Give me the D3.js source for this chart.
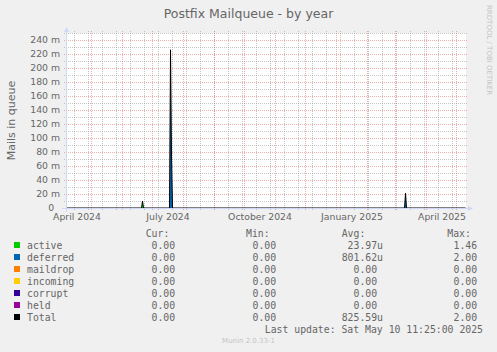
<!DOCTYPE html>
<html>
<head>
<meta charset="utf-8">
<script src="https://cdn.jsdelivr.net/npm/d3@7"></script>
<style>
    body { margin: 0; background: #f0f0f0; }
    svg { display: block; }
    text { font-family: "DejaVu Sans", sans-serif; fill: #666666; }
    .mono { font-family: "DejaVu Sans Mono", monospace; }
</style>
</head>
<body>
<svg id="chart"></svg>
<script>
// samples (daily averages, in mails)
var sampleDates = ["2024-04-06", "2024-06-20", "2024-06-21", "2024-06-22", "2024-07-18", "2024-07-19",
                   "2024-07-20", "2024-07-21", "2025-03-10", "2025-03-11", "2025-03-12", "2025-05-10"]
var active   = [0, 0, 0.010, 0, 0, 0,     0,     0, 0, 0,     0, 0]
var deferred = [0, 0, 0,     0, 0, 0.226, 0.074, 0, 0, 0.021, 0, 0]
var maildrop = [0, 0, 0,     0, 0, 0,     0,     0, 0, 0,     0, 0]
var incoming = [0, 0, 0,     0, 0, 0,     0,     0, 0, 0,     0, 0]
var corrupt  = [0, 0, 0,     0, 0, 0,     0,     0, 0, 0,     0, 0]
var held     = [0, 0, 0,     0, 0, 0,     0,     0, 0, 0,     0, 0]
var total    = [0, 0, 0.010, 0, 0, 0.226, 0.074, 0, 0, 0.021, 0, 0]

var seriesNames  = ["active", "deferred", "maildrop", "incoming", "corrupt", "held", "Total"]
var seriesColors = ["#00cc00", "#0066b3", "#ff8000", "#ffcc00", "#330099", "#990099", "#000000"]
var curValues = [0, 0, 0, 0, 0, 0, 0]
var minValues = [0, 0, 0, 0, 0, 0, 0]
var avgValues = [23.97e-6, 801.62e-6, 0, 0, 0, 0, 825.59e-6]
var maxValues = [1.46, 2.00, 0, 0, 0, 0, 2.00]

var monthLabels = ["2024-04-01", "2024-07-01", "2024-10-01", "2025-01-01", "2025-04-01"]
var lastUpdate = "Last update: Sat May 10 11:25:00 2025"

var parseDay = d3.utcParse("%Y-%m-%d")
var endTime = new Date(Date.UTC(2025, 4, 10, 11, 25))
var startTime = d3.utcDay.offset(endTime, -400)

var dimensions = {
    width: 497,
    height: 352,
    plot: { left: 66, right: 466, top: 33, bottom: 208 }
}

var svg = d3.select("#chart")
    .attr("width", dimensions.width)
    .attr("height", dimensions.height)

svg.append("rect")
    .attr("width", dimensions.width)
    .attr("height", dimensions.height)
    .attr("fill", "#f0f0f0")

var xScale = d3.scaleUtc()
    .domain([startTime, endTime])
    .range([dimensions.plot.left, dimensions.plot.right])
var yScale = d3.scaleLinear()
    .domain([0, 0.25])
    .range([dimensions.plot.bottom, dimensions.plot.top])

// canvas
svg.append("rect")
    .attr("x", dimensions.plot.left)
    .attr("y", dimensions.plot.top)
    .attr("width", dimensions.plot.right - dimensions.plot.left)
    .attr("height", dimensions.plot.bottom - dimensions.plot.top)
    .attr("fill", "#ffffff")

var gridColor = "rgba(143,143,143,0.5)"
var majorColor = "rgba(222,79,79,0.45)"

// grid
var grid = svg.append("g").attr("shape-rendering", "crispEdges")
var yMajor = yScale.ticks(12)
var yMinor = yScale.ticks(25).filter(d => yMajor.indexOf(d) < 0)
var xMinor = d3.utcDay.range(parseDay("2024-04-14"), endTime, 14)
var xMajor = d3.utcMonth.range(startTime, endTime)

grid.selectAll(".hminor").data(yMinor).enter().append("line")
    .attr("x1", dimensions.plot.left - 2).attr("x2", dimensions.plot.right + 2)
    .attr("y1", d => Math.round(yScale(d)) + 0.5).attr("y2", d => Math.round(yScale(d)) + 0.5)
    .attr("stroke", gridColor).attr("stroke-dasharray", "1,1")
grid.selectAll(".vminor").data(xMinor).enter().append("line")
    .attr("x1", d => Math.floor(xScale(d)) + 0.5).attr("x2", d => Math.floor(xScale(d)) + 0.5)
    .attr("y1", dimensions.plot.top - 2).attr("y2", dimensions.plot.bottom + 2)
    .attr("stroke", gridColor).attr("stroke-dasharray", "1,1")
grid.selectAll(".hmajor").data(yMajor).enter().append("line")
    .attr("x1", dimensions.plot.left - 2).attr("x2", dimensions.plot.right + 2)
    .attr("y1", d => Math.round(yScale(d)) + 0.5).attr("y2", d => Math.round(yScale(d)) + 0.5)
    .attr("stroke", majorColor).attr("stroke-dasharray", "1,1")
grid.selectAll(".vmajor").data(xMajor).enter().append("line")
    .attr("x1", d => Math.floor(xScale(d)) + 0.5).attr("x2", d => Math.floor(xScale(d)) + 0.5)
    .attr("y1", dimensions.plot.top - 2).attr("y2", dimensions.plot.bottom + 2)
    .attr("stroke", majorColor).attr("stroke-dasharray", "1,1")

// stacked areas
var rows = sampleDates.map((d, i) => ({
    date: parseDay(d),
    active: active[i], deferred: deferred[i], maildrop: maildrop[i],
    incoming: incoming[i], corrupt: corrupt[i], held: held[i]
}))
var stackKeys = seriesNames.slice(0, 6)
var layers = d3.stack().keys(stackKeys)(rows)

var areaGen = d3.area()
    .x(d => xScale(d.data.date))
    .y0(d => yScale(d[0]))
    .y1(d => yScale(d[1]))

svg.append("g")
    .selectAll("path")
    .data(layers)
    .enter()
    .append("path")
    .attr("d", areaGen)
    .attr("fill", (d, i) => seriesColors[i])

var totalLine = d3.line()
    .x((d, i) => xScale(parseDay(sampleDates[i])))
    .y(d => yScale(d))

svg.append("path")
    .datum(total)
    .attr("d", totalLine)
    .attr("fill", "none")
    .attr("stroke", "#000000")
    .attr("stroke-width", 1)

// axes
var axisColor = "#cfd6f8"
svg.append("line")
    .attr("x1", dimensions.plot.left - 4).attr("x2", dimensions.plot.right + 3)
    .attr("y1", dimensions.plot.bottom + 0.5).attr("y2", dimensions.plot.bottom + 0.5)
    .attr("stroke", axisColor)
svg.append("line")
    .attr("x1", dimensions.plot.left + 0.5).attr("x2", dimensions.plot.left + 0.5)
    .attr("y1", dimensions.plot.bottom + 4).attr("y2", dimensions.plot.top - 2)
    .attr("stroke", axisColor)
svg.append("path")
    .attr("d", `M${dimensions.plot.right + 2},${dimensions.plot.bottom - 2} L${dimensions.plot.right + 7},${dimensions.plot.bottom + 0.5} L${dimensions.plot.right + 2},${dimensions.plot.bottom + 3} Z`)
    .attr("fill", axisColor)
svg.append("path")
    .attr("d", `M${dimensions.plot.left - 2},${dimensions.plot.top - 1} L${dimensions.plot.left + 0.5},${dimensions.plot.top - 6} L${dimensions.plot.left + 3},${dimensions.plot.top - 1} Z`)
    .attr("fill", axisColor)

var yAxisGen = d3.axisLeft(yScale)
    .tickValues(yMajor)
    .tickSize(0)
    .tickPadding(6)
    .tickFormat(d => d === 0 ? "0\u00a0\u00a0" : Math.round(d * 1000) + " m")
var yAxis = svg.append("g")
    .attr("transform", `translate(${dimensions.plot.left},0)`)
    .call(yAxisGen)
yAxis.select(".domain").remove()
yAxis.selectAll("text")
    .attr("font-family", "DejaVu Sans")
    .attr("font-size", 9.3)
    .attr("fill", "#666666")

var labelFormat = d3.utcFormat("%B %Y")
var xAxisGen = d3.axisBottom(xScale)
    .tickValues(monthLabels.map(d => d3.utcDay.offset(parseDay(d), 15)))
    .tickSize(0)
    .tickPadding(5)
    .tickFormat(d => labelFormat(d3.utcMonth.floor(d)))
var xAxis = svg.append("g")
    .attr("transform", `translate(0,${dimensions.plot.bottom})`)
    .call(xAxisGen)
xAxis.select(".domain").remove()
xAxis.selectAll("text")
    .attr("font-family", "DejaVu Sans")
    .attr("font-size", 9.3)
    .attr("fill", "#666666")

// titles
svg.append("text")
    .attr("x", 248.5)
    .attr("y", 18)
    .attr("text-anchor", "middle")
    .attr("font-size", 12.5)
    .text("Postfix Mailqueue - by year")

svg.append("text")
    .attr("text-anchor", "middle")
    .attr("font-size", 11)
    .attr("transform", `translate(15, ${(dimensions.plot.top + dimensions.plot.bottom) / 2}) rotate(-90)`)
    .text("Mails in queue")

svg.append("text")
    .attr("font-size", 7)
    .style("fill", "#c4c4c4")
    .attr("transform", "translate(486.5, 5) rotate(90)")
    .text("RRDTOOL / TOBI OETIKER")

// legend
function fmt(v) {
    if (v === 0) return "0.00\u00a0"
    if (Math.abs(v) < 1e-3) return (v * 1e6).toFixed(2) + "u"
    if (Math.abs(v) < 1) return (v * 1e3).toFixed(2) + "m"
    return v.toFixed(2) + "\u00a0"
}

var legend = svg.append("g").attr("class", "mono").attr("font-size", 9.8)
var headers = [["Cur:", 145.7], ["Min:", 246], ["Avg:", 341.7], ["Max:", 447.3]]
legend.selectAll(".hdr").data(headers).enter().append("text")
    .attr("class", "mono")
    .attr("x", d => d[1])
    .attr("y", 237)
    .text(d => d[0])

var columns = [[curValues, 181], [minValues, 282], [avgValues, 383], [maxValues, 483]]
seriesNames.forEach((name, i) => {
    var base = 249 + 12 * i
    legend.append("rect")
        .attr("x", 14).attr("y", base - 7)
        .attr("width", 6).attr("height", 6)
        .attr("fill", seriesColors[i])
    legend.append("text")
        .attr("class", "mono")
        .attr("x", 27).attr("y", base)
        .text(name)
    columns.forEach(col => {
        legend.append("text")
            .attr("class", "mono")
            .attr("x", col[1]).attr("y", base)
            .attr("text-anchor", "end")
            .text(fmt(col[0][i]))
    })
})

legend.append("text")
    .attr("class", "mono")
    .attr("x", 483).attr("y", 333)
    .attr("text-anchor", "end")
    .text(lastUpdate)

svg.append("text")
    .attr("x", 248.5).attr("y", 343)
    .attr("text-anchor", "middle")
    .attr("font-size", 7)
    .style("fill", "#c4c4c4")
    .text("Munin 2.0.33-1")
</script>
</body>
</html>
